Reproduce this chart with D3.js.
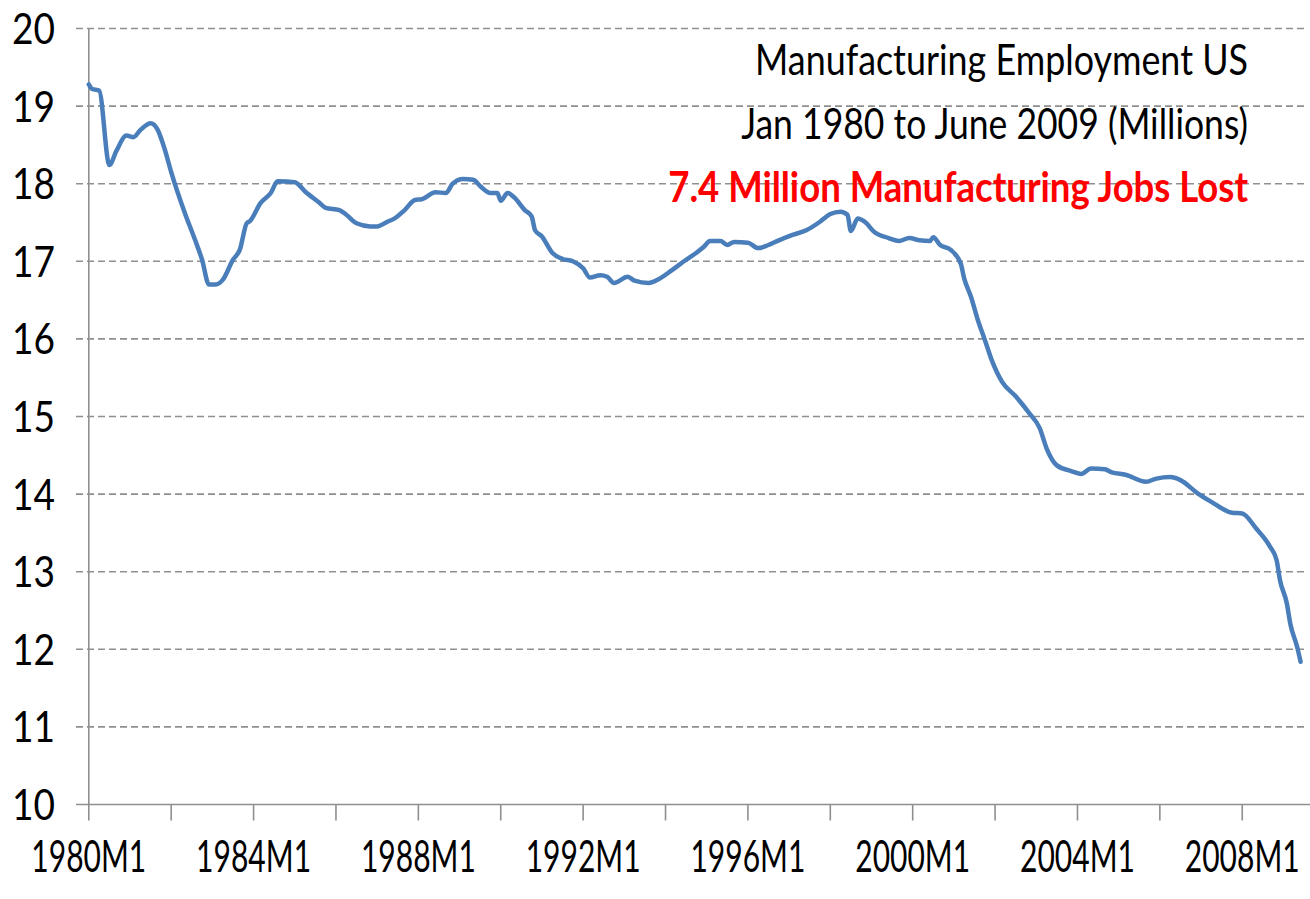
<!DOCTYPE html>
<html>
<head>
<meta charset="utf-8">
<script src="https://cdn.jsdelivr.net/npm/d3@7"></script>
<style>
  html, body { margin: 0; padding: 0; background: #ffffff; }
  svg { display: block; }
  text { font-family: Lato, "Open Sans", "Noto Sans", sans-serif; }
</style>
</head>
<body>
<svg id="chart" width="1310" height="899"></svg>
<script>
// ---- data ----
const obsMonths = [
  "1980M1","1980M2","1980M4","1980M7","1980M9","1980M12","1981M2","1981M4","1981M7","1981M9",
  "1981M11","1982M1","1982M5","1982M8","1982M10","1982M12","1983M2","1983M4","1983M7","1983M9",
  "1983M11","1983M12","1984M3","1984M6","1984M8","1985M1","1985M4","1985M8","1985M10","1986M2",
  "1986M4","1986M7","1986M11","1987M1","1987M4","1987M6","1987M9","1987M12","1988M2","1988M6",
  "1988M9","1988M11","1989M2","1989M5","1989M7","1989M10","1989M12","1990M1","1990M3","1990M5",
  "1990M8","1990M10","1990M11","1991M1","1991M4","1991M7","1991M10","1992M1","1992M3","1992M6",
  "1992M8","1992M10","1993M2","1993M4","1993M8","1993M11","1994M3","1994M7","1994M10","1994M12",
  "1995M2","1995M5","1995M7","1995M9","1996M1","1996M4","1996M7","1996M10","1997M2","1997M6",
  "1997M10","1998M1","1998M4","1998M6","1998M7","1998M9","1998M11","1999M2","1999M6","1999M9",
  "1999M12","2000M3","2000M6","2000M7","2000M9","2000M12","2001M3","2001M4","2001M6","2001M8",
  "2001M10","2001M12","2002M3","2002M7","2002M11","2003M2","2003M4","2003M7","2003M11","2004M2",
  "2004M5","2004M9","2004M11","2005M3","2005M9","2005M12","2006M4","2006M7","2006M12","2007M4",
  "2007M10","2008M1","2008M5","2008M9","2008M11","2008M12","2009M2","2009M3","2009M5","2009M6"
];
const obsValues = [
  19.28,19.22,19.20,18.24,18.42,18.62,18.60,18.69,18.78,18.70,
  18.46,18.15,17.62,17.27,17.02,16.70,16.70,16.76,17.02,17.15,
  17.49,17.52,17.75,17.88,18.03,18.02,17.90,17.76,17.69,17.66,
  17.60,17.49,17.45,17.45,17.51,17.55,17.66,17.79,17.80,17.89,
  17.88,18.00,18.06,18.05,17.97,17.88,17.88,17.78,17.88,17.82,
  17.66,17.58,17.40,17.32,17.11,17.03,17.00,16.91,16.79,16.82,
  16.80,16.72,16.80,16.75,16.72,16.77,16.89,17.02,17.11,17.18,
  17.26,17.26,17.21,17.25,17.24,17.17,17.21,17.27,17.34,17.40,
  17.51,17.61,17.64,17.60,17.39,17.55,17.51,17.37,17.30,17.26,
  17.30,17.27,17.26,17.31,17.21,17.15,16.97,16.78,16.54,16.24,
  15.99,15.73,15.45,15.26,15.04,14.85,14.59,14.37,14.30,14.26,
  14.33,14.32,14.28,14.25,14.16,14.20,14.22,14.18,14.01,13.90,
  13.76,13.75,13.56,13.33,13.15,12.89,12.59,12.33,12.03,11.84
];
const tickLabels = ["1980M1","1984M1","1988M1","1992M1","1996M1","2000M1","2004M1","2008M1"];
const yTicks = [10,11,12,13,14,15,16,17,18,19,20];
const titleLines = ["Manufacturing Employment US","Jan 1980 to June 2009 (Millions)"];
const subtitle = "7.4 Million Manufacturing Jobs Lost";

// ---- category axis: every month 1980M1 .. 2009M6 ----
const allMonths = [];
for (let yr = 1980; yr <= 2009; yr++) {
  for (let m = 1; m <= 12; m++) {
    if (yr === 2009 && m > 6) break;
    allMonths.push(yr + "M" + m);
  }
}
const series = obsMonths.map((m, i) => ({ month: m, value: obsValues[i] }));

const svg = d3.select("#chart");
const x = d3.scalePoint().domain(allMonths).range([88.8, 1300.6]);
const y = d3.scaleLinear().domain([10, 20]).range([804.5, 28.5]);
const axisColor = "#8f8f8f";

// gridlines
svg.append("g").selectAll("line")
  .data(yTicks.filter(v => v > 10))
  .join("line")
  .attr("x1", 76).attr("x2", 1306)
  .attr("y1", d => y(d)).attr("y2", d => y(d))
  .attr("stroke", axisColor).attr("stroke-width", 1.6)
  .attr("stroke-dasharray", "7,4");

// y axis line
svg.append("line")
  .attr("x1", x("1980M1")).attr("x2", x("1980M1"))
  .attr("y1", y(20)).attr("y2", y(10))
  .attr("stroke", axisColor).attr("stroke-width", 1.6);

// x axis line
svg.append("line")
  .attr("x1", 76).attr("x2", 1310)
  .attr("y1", y(10)).attr("y2", y(10))
  .attr("stroke", axisColor).attr("stroke-width", 1.6);

// x tick marks every 24 months
const tickMarks = allMonths.filter((m, i) => i % 24 === 0);
svg.append("g").selectAll("line")
  .data(tickMarks)
  .join("line")
  .attr("x1", d => x(d)).attr("x2", d => x(d))
  .attr("y1", y(10)).attr("y2", y(10) + 16)
  .attr("stroke", axisColor).attr("stroke-width", 1.6);

// helper: place text anchored at (ax, ay), squeezed horizontally to width w
function fitText(sel, anchor) {
  sel.each(function(d) {
    const node = this;
    const natural = node.getComputedTextLength();
    const sx = d.w / natural;
    node.setAttribute("x", 0);
    node.setAttribute("y", 0);
    node.setAttribute("text-anchor", anchor);
    node.setAttribute("transform", `translate(${d.ax},${d.ay}) scale(${sx},1)`);
  });
}

// y labels
svg.append("g").selectAll("text")
  .data(yTicks.map(v => ({ t: String(v), ax: 55, ay: y(v) + 15.5, w: 43 })))
  .join("text")
  .attr("font-size", 43)
  .attr("fill", "#000")
  .text(d => d.t)
  .call(fitText, "end");

// x labels
svg.append("g").selectAll("text")
  .data(tickLabels.map(t => ({ t, ax: x(t), ay: 872, w: 115 })))
  .join("text")
  .attr("font-size", 44)
  .attr("fill", "#000")
  .text(d => d.t)
  .call(fitText, "middle");

// line
const line = d3.line()
  .x(d => x(d.month))
  .y(d => y(d.value))
  .curve(d3.curveMonotoneX);
svg.append("path")
  .datum(series)
  .attr("d", line)
  .attr("fill", "none")
  .attr("stroke", "#4a7ebb")
  .attr("stroke-width", 4.5)
  .attr("stroke-linejoin", "round")
  .attr("stroke-linecap", "round");

// title block
const titleSpec = [
  { t: titleLines[0], ax: 1248, ay: 75, w: 493, color: "#000", weight: "normal" },
  { t: titleLines[1], ax: 1248, ay: 139, w: 507, color: "#000", weight: "normal" },
  { t: subtitle, ax: 1248, ay: 202, w: 580, color: "#ff0000", weight: "bold" }
];
svg.append("g").selectAll("text")
  .data(titleSpec)
  .join("text")
  .attr("font-size", 42)
  .attr("font-weight", d => d.weight)
  .attr("fill", d => d.color)
  .text(d => d.t)
  .call(fitText, "end");
</script>
</body>
</html>
